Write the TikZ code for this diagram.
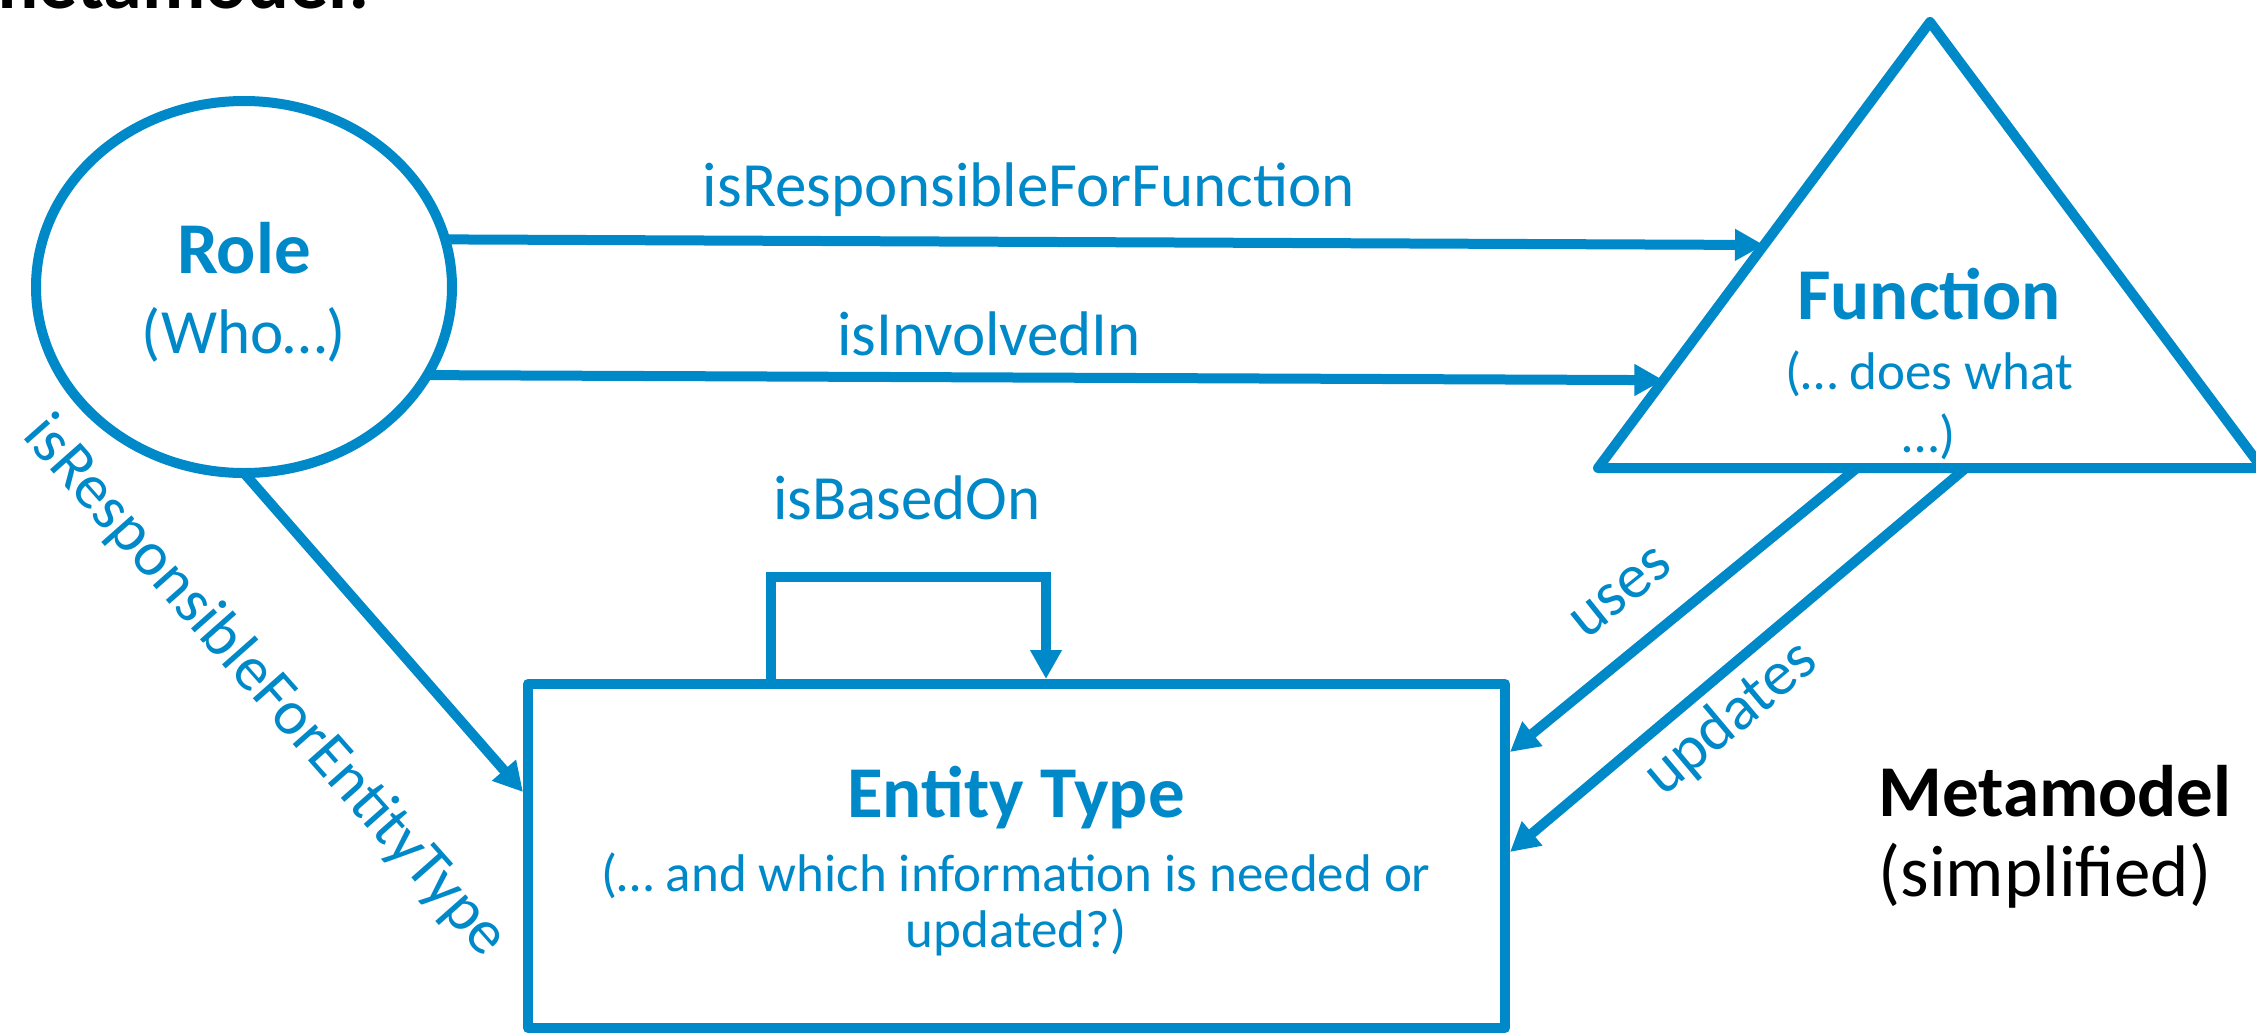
\documentclass[tikz,border=0pt]{standalone}
\usepackage{fontspec}
\setmainfont{Carlito}
\usetikzlibrary{arrows.meta,shapes.geometric,calc}
\definecolor{mblue}{RGB}{0,137,201}
\begin{document}
\begin{tikzpicture}[x=0.5pt,y=-0.5pt,
  shapeline/.style={draw=mblue,line width=5pt,line join=round},
  conn/.style={draw=mblue,line width=5pt,-{Triangle[length=14.5pt,width=15pt]}},
  title/.style={text=mblue,font=\bfseries\fontsize{36.5}{40}\selectfont,inner sep=0pt},
  sub/.style={text=mblue,font=\fontsize{26.5}{30}\selectfont,inner sep=0pt},
  lbl/.style={text=mblue,font=\fontsize{31.5}{36}\selectfont,inner sep=0pt},
  note/.style={text=black,inner sep=0pt},
]
\useasboundingbox (0,0) rectangle (2256,1034);
\fill[white] (0,0) rectangle (2256,1034);
\clip (0,0) rectangle (2256,1034);

% heading, cut by the page edge
\node[note,font=\bfseries\fontsize{39}{44}\selectfont,anchor=base east] (head) at (370,8) {metamodel:};

% corners of the Function triangle
\coordinate (fA) at (1930,22);
\coordinate (fL) at (1598,468);
\coordinate (fR) at (2262,468);

% levels where connectors meet the Entity Type box
\coordinate (yRE) at (0,792);
\coordinate (yUses) at (0,752);
\coordinate (yUpd) at (0,852);
\coordinate (loopL) at (771,577);
\coordinate (loopR) at (1046,577);

% shapes
\node[ellipse,shapeline,minimum width=208pt,minimum height=186pt,inner sep=0pt] (role) at (244,287) {};
\node[rectangle,shapeline,minimum width=488.5pt,minimum height=172pt,inner sep=0pt] (entity) at (1016.5,856) {};
\draw[shapeline] (fL) -- (fA) -- (fR) -- cycle;

% connectors
\draw[conn] ([xshift=-3pt]role.13) -- ($(fL)!0.5!(fA)$);
\draw[conn] ([xshift=-3pt]role.-25) -- ($(fL)!0.197!(fA)$);
\draw[conn] ([yshift=2.5pt]role.south) -- (entity.west |- yRE);
\draw[conn] ($(fL)!0.39!(fR)$) -- (entity.east |- yUses);
\draw[conn] ($(fL)!0.554!(fR)$) -- (entity.east |- yUpd);
\draw[conn,line join=miter] (entity.north -| loopL) -- (loopL) -- (loopR) -- (entity.north -| loopR);

% texts inside the shapes
\node[title,anchor=base] (roleT) at (244,273) {Role};
\node[lbl,anchor=base] (roleS) at (244,353) {(Who…)};
\node[title,anchor=base] (funcT) at (1929,319) {Function};
\node[sub,anchor=base] (funcS1) at (1929,389) {(… does what};
\node[sub,anchor=base] (funcS2) at (1929,452) {…)};
\node[title,anchor=base] (entT) at (1016,817) {Entity Type};
\node[sub,anchor=base] (entS1) at (1016,891) {(… and which information is needed or};
\node[sub,anchor=base] (entS2) at (1016,947) {updated?)};

% connector labels
\node[lbl,anchor=base] (lRF) at (1029,206) {isResponsibleForFunction};
\node[lbl,anchor=base] (lInv) at (989,355) {isInvolvedIn};
\node[lbl,anchor=base] (lBased) at (907,519) {isBasedOn};
\node[lbl,rotate=-48.5] (lRE) at (265,687) {isResponsibleForEntityType};
\node[lbl,rotate=38.7] (lUses) at (1621,593) {uses};
\node[lbl,rotate=40] (lUpd) at (1731,719) {updates};

% caption
\node[note,font=\bfseries\fontsize{36.5}{40}\selectfont,anchor=base west] (capT) at (1878,816) {Metamodel};
\node[note,font=\fontsize{36.5}{40}\selectfont,anchor=base west] (capS) at (1878,896) {(simplified)};
\end{tikzpicture}
\end{document}
